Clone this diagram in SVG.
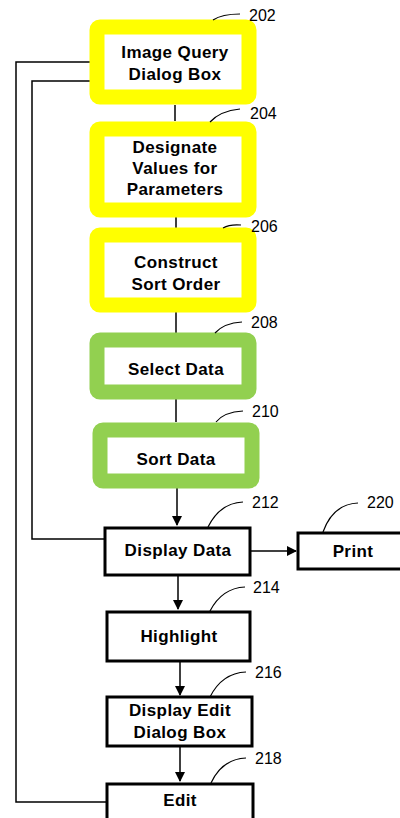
<svg xmlns="http://www.w3.org/2000/svg" width="400" height="818" viewBox="0 0 400 818">
<defs>
<marker id="ah" markerWidth="10" markerHeight="10" refX="9" refY="5" orient="auto" markerUnits="userSpaceOnUse">
<path d="M0,0 L10,5 L0,10 Z" fill="#000"/>
</marker>
<style>
.y{fill:#fff;stroke:#FFFF00;stroke-width:15}
.g{fill:#fff;stroke:#92D050;stroke-width:15}
.b{fill:#fff;stroke:#000;stroke-width:3}
.t{font-family:"Liberation Sans",Arial,sans-serif;font-weight:bold;font-size:17px;letter-spacing:0.4px;fill:#000;text-anchor:middle}
.n{font-family:"Liberation Sans",Arial,sans-serif;font-size:16px;fill:#000}
.c{fill:none;stroke:#000;stroke-width:1.5}
.l{fill:none;stroke:#000;stroke-width:1.2}
</style>
</defs>
<rect width="400" height="818" fill="#fff"/>
<g id="connectors">
<path class="c" d="M175,105 V121"/>
<path class="c" d="M176,217 V228"/>
<path class="c" d="M176,312 V333"/>
<path class="c" d="M176,399 V422"/>
<path class="c" d="M177,488 V525" marker-end="url(#ah)"/>
<path class="c" d="M250,551 H296" marker-end="url(#ah)"/>
<path class="c" d="M178,575 V609" marker-end="url(#ah)"/>
<path class="c" d="M180,661 V695" marker-end="url(#ah)"/>
<path class="c" d="M180,746 V781" marker-end="url(#ah)"/>
<path class="c" d="M107,802 H16 V62 H90"/>
<path class="c" d="M104,539 H32 V81 H90"/>
</g>
<g id="n202">
<rect class="y" x="97" y="27" width="152" height="70" rx="3"/>
<text class="t" x="175" y="58">Image Query</text>
<text class="t" x="175" y="80">Dialog Box</text>
<path class="l" d="M213,20 Q222,14 240,14"/>
<text class="n" x="249" y="21">202</text>
</g>
<g id="n204">
<rect class="y" x="97" y="129" width="152" height="81" rx="3"/>
<text class="t" x="175" y="153">Designate</text>
<text class="t" x="175" y="174">Values for</text>
<text class="t" x="175" y="195">Parameters</text>
<path class="l" d="M210,122 Q220,111 240,109"/>
<text class="n" x="250" y="119">204</text>
</g>
<g id="n206">
<rect class="y" x="97" y="235" width="152" height="70" rx="3"/>
<text class="t" x="176" y="268">Construct</text>
<text class="t" x="176" y="290">Sort Order</text>
<path class="l" d="M223,228 Q230,224 241,225"/>
<text class="n" x="251" y="232">206</text>
</g>
<g id="n208">
<rect class="g" x="97" y="340" width="152" height="52" rx="3"/>
<text class="t" x="176" y="375">Select Data</text>
<path class="l" d="M215,333 Q224,323 242,322"/>
<text class="n" x="251" y="328">208</text>
</g>
<g id="n210">
<rect class="g" x="100" y="430" width="152" height="51" rx="3"/>
<text class="t" x="176" y="465">Sort Data</text>
<path class="l" d="M216,422 Q224,412 243,411"/>
<text class="n" x="252" y="417">210</text>
</g>
<g id="n212">
<rect class="b" x="105" y="528" width="145" height="47"/>
<text class="t" x="178" y="556">Display Data</text>
<path class="l" d="M208,527 Q220,503 243,502"/>
<text class="n" x="252" y="508">212</text>
</g>
<g id="n220">
<rect class="b" x="298" y="533" width="110" height="36"/>
<text class="t" x="353" y="557">Print</text>
<path class="l" d="M323,532 Q333,504 358,503"/>
<text class="n" x="367" y="508">220</text>
</g>
<g id="n214">
<rect class="b" x="107" y="612" width="143" height="49"/>
<text class="t" x="179" y="642">Highlight</text>
<path class="l" d="M210,611 Q222,588 245,587"/>
<text class="n" x="253" y="593">214</text>
</g>
<g id="n216">
<rect class="b" x="107" y="697" width="145" height="49"/>
<text class="t" x="180" y="716">Display Edit</text>
<text class="t" x="180" y="738">Dialog Box</text>
<path class="l" d="M210,697 Q222,673 246,672"/>
<text class="n" x="255" y="678">216</text>
</g>
<g id="n218">
<rect class="b" x="107" y="784" width="146" height="40"/>
<text class="t" x="180" y="806">Edit</text>
<path class="l" d="M211,783 Q222,759 246,758"/>
<text class="n" x="255" y="764">218</text>
</g>
</svg>
